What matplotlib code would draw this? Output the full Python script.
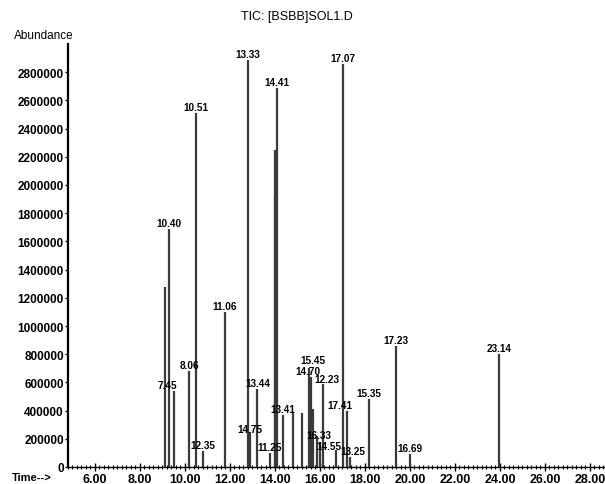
import matplotlib
matplotlib.use("Agg")
from matplotlib import pyplot as plt
from matplotlib.ticker import MultipleLocator, FuncFormatter

plt.rcParams['font.family'] = ['Liberation Sans', 'DejaVu Sans']

# peak retention times (min), abundances and the printed peak labels
peak_time = [9.12, 9.30, 9.50, 10.20, 10.50, 10.80, 11.78, 12.80, 12.90, 13.22,
             13.78, 13.98, 14.02, 14.10, 14.36, 14.80, 15.20, 15.50, 15.62, 15.70,
             15.86, 16.00, 16.12, 16.70, 17.02, 17.20, 17.33, 18.18, 19.38, 20.00,
             23.96]
peak_height = [1280000, 1690000, 540000, 680000, 2510000, 110000, 1100000, 2890000, 250000, 550000,
               100000, 1930000, 2250000, 2690000, 370000, 380000, 380000, 700000, 640000, 410000,
               220000, 180000, 590000, 120000, 2860000, 400000, 70000, 480000, 860000, 90000,
               800000]
peak_label = ['', '10.40', '7.45', '8.06', '10.51', '12.35', '11.06', '13.33', '14.75', '13.44',
              '11.25', '', '', '14.41', '13.41', '', '', '15.45', '14.70', '',
              '16.33', '', '12.23', '14.55', '17.07', '17.41', '13.25', '15.35', '17.23', '16.69',
              '23.14']

# labels nudged off their peak (pixels)
label_shift = {'7.45': (-6, 0), '14.75': (0, -3), '15.45': (4, 2), '14.70': (-3, 0),
               '12.23': (4, -1), '16.33': (2, -5), '14.55': (-7, -2), '13.25': (3, 0),
               '17.41': (-7, 0)}

fig = plt.figure(figsize=(6.05, 4.85), dpi=100)
ax = fig.add_axes([68 / 605, 17 / 485, 537 / 605, 423 / 485])

ax.vlines(peak_time, 0, peak_height, color='#3a3a3a', linewidth=1.6)

for t, h, lab in zip(peak_time, peak_height, peak_label):
    if not lab:
        continue
    dx, dy = label_shift.get(lab, (0, 0))
    ax.annotate(lab, (t, h), xytext=(dx, 1 + dy), textcoords='offset pixels',
                ha='center', va='bottom', fontsize=7.2, fontweight='bold')

ax.set_xlim(4.8, 28.67)
ax.set_ylim(0, 3000000)

ax.xaxis.set_major_locator(MultipleLocator(2))
ax.xaxis.set_minor_locator(MultipleLocator(0.2))
ax.xaxis.set_major_formatter(FuncFormatter(lambda v, p: f'{v:.2f}'))
ax.set_yticks(range(0, 2800001, 200000))
ax.yaxis.set_major_formatter(FuncFormatter(lambda v, p: f'{int(v)}'))

ax.tick_params(axis='x', which='major', direction='inout', length=6, width=1,
               labelsize=9, pad=1)
ax.tick_params(axis='x', which='minor', direction='inout', length=3, width=0.8)
ax.tick_params(axis='y', direction='out', length=2, width=1, labelsize=8.5, pad=1)
for lbl in ax.get_xticklabels() + ax.get_yticklabels():
    lbl.set_fontweight('bold')

for side in ['top', 'right']:
    ax.spines[side].set_visible(False)
ax.spines['left'].set_linewidth(1.6)
ax.spines['bottom'].set_linewidth(1.0)

fig.text(297 / 605, 1 - 17 / 485, 'TIC: [BSBB]SOL1.D', ha='center', va='center', fontsize=9)
fig.text(44 / 605, 1 - 36 / 485, 'Abundance', ha='center', va='center', fontsize=8.5)
fig.text(12 / 605, 1 - 478 / 485, 'Time-->', ha='left', va='center', fontsize=8, fontweight='bold')

fig.savefig('out.png', dpi=100)
